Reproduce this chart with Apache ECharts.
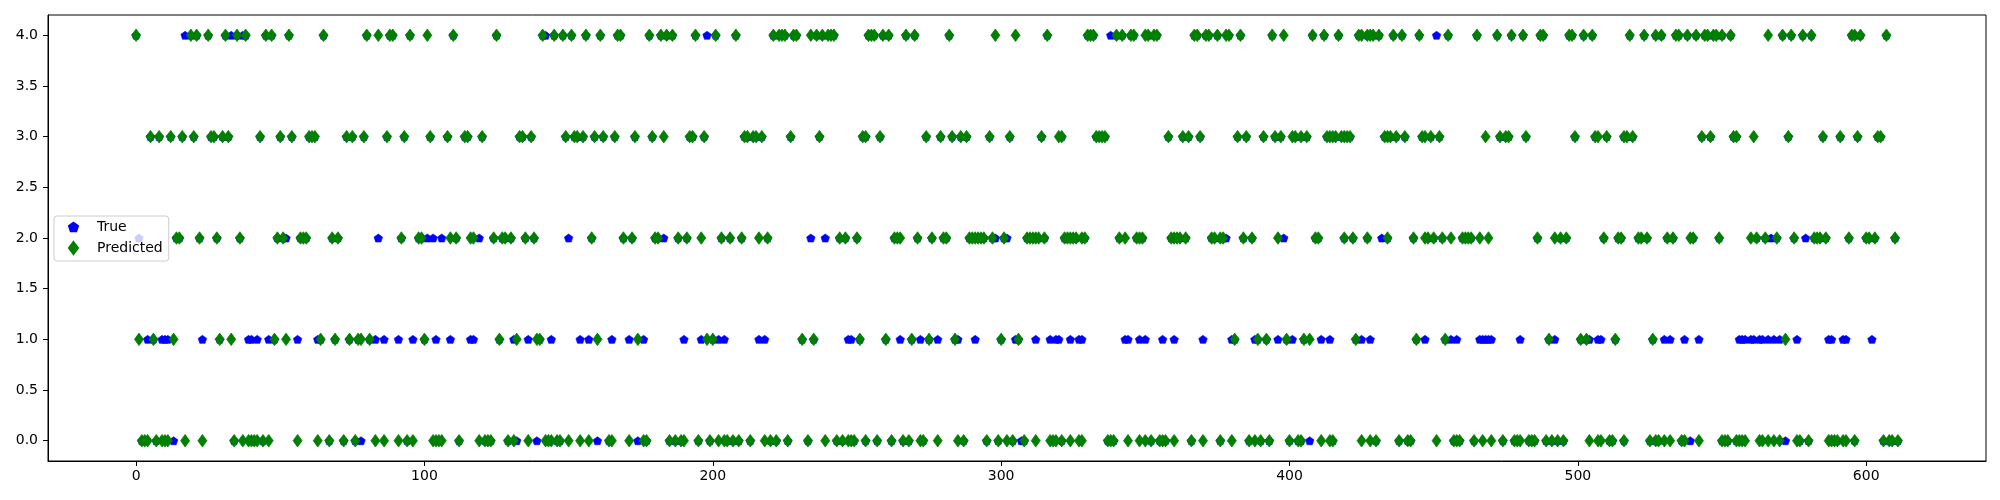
<!DOCTYPE html>
<html><head><meta charset="utf-8">
<script src="https://cdn.jsdelivr.net/npm/echarts@6/dist/echarts.min.js"></script>
<style>html,body{margin:0;padding:0;background:#fff}#c{width:2000px;height:500px}</style>
</head><body><div id="c"></div><script>
// Predicted class per sample index (indices grouped by predicted class)
const pred0 = [2,3,4,7,9,10,11,17,23,34,37,39,40,41,42,44,46,56,63,67,72,76,83,86,91,94,96,103,104,105,106,112,119,121,122,123,129,131,136,142,143,144,146,147,150,154,157,164,165,171,176,177,185,187,189,190,195,199,202,204,205,207,209,213,218,220,222,226,233,239,243,245,247,248,249,253,257,262,266,268,272,273,278,285,287,295,299,302,304,308,312,317,318,319,321,324,327,328,337,338,339,344,348,350,352,355,356,357,360,366,370,376,380,386,388,390,393,400,403,404,411,414,415,425,428,430,438,441,442,451,457,458,459,464,467,470,474,478,479,480,483,484,485,489,491,493,495,504,507,508,511,512,516,525,527,528,530,532,536,537,542,550,551,552,555,556,557,558,563,564,566,568,570,576,577,580,587,588,589,590,592,593,596,606,608,609,611];
const pred1 = [1,6,13,29,33,48,52,64,69,74,77,78,81,100,126,132,139,140,160,174,198,200,231,235,251,260,269,275,284,300,306,381,389,392,399,405,407,423,444,454,490,501,503,513,526,572];
const pred2 = [14,15,22,28,36,49,51,57,58,59,68,70,92,98,99,109,111,116,117,124,127,128,130,135,138,158,169,172,180,181,188,191,196,203,206,210,216,219,244,246,250,263,264,265,271,276,280,281,289,290,291,292,293,294,297,301,309,310,311,312,313,315,322,323,324,325,326,328,329,341,343,347,348,349,359,360,361,362,364,373,374,376,377,384,387,396,409,410,419,422,427,434,443,447,448,450,453,456,460,461,462,463,466,469,486,492,494,496,509,514,515,521,522,524,531,533,539,540,549,560,562,565,569,575,582,583,584,586,594,600,601,603,610];
const pred3 = [5,8,12,16,20,26,27,30,32,43,50,54,60,61,62,73,75,79,87,93,102,108,114,115,120,133,134,137,149,152,153,155,159,162,166,173,179,183,192,193,197,211,212,214,215,217,227,237,252,253,258,274,279,283,286,288,296,303,314,320,321,333,334,335,336,358,363,365,369,382,385,391,395,397,401,402,404,406,413,414,415,416,418,419,420,421,433,434,435,437,440,446,447,449,452,468,473,475,476,482,499,506,507,510,516,517,519,543,546,554,555,561,573,585,591,597,604,605];
const pred4 = [0,19,21,25,31,35,38,45,47,53,65,80,84,88,89,95,101,110,125,141,145,148,151,156,161,167,168,178,182,184,186,194,201,208,221,223,224,225,228,229,234,236,238,240,241,242,254,255,256,259,261,267,270,282,298,305,316,330,331,332,340,342,345,346,350,351,353,354,367,368,371,372,375,378,379,383,394,398,408,412,417,424,425,427,428,429,431,436,439,445,455,465,472,477,481,487,488,497,498,502,505,518,523,527,529,534,535,538,541,544,545,547,548,550,553,566,571,574,578,581,595,596,598,607];
// True class where it differs from the prediction (indices grouped by true class)
const true0x = [13,78,132,139,160,174,307,407,539,572];
const true1x = [4,9,10,11,23,39,40,42,46,56,63,83,86,91,96,104,109,116,117,131,136,144,154,157,165,171,176,190,196,202,204,216,218,247,248,265,272,278,285,291,305,312,317,319,320,324,327,328,343,344,348,350,356,360,370,380,388,396,401,411,414,425,428,447,456,458,466,467,468,469,470,480,492,504,507,508,530,532,537,542,556,557,558,560,561,563,564,566,568,570,576,587,588,592,593,602];
const true2x = [1,52,84,101,103,106,119,150,183,234,239,298,302,378,398,432,567,579];
const true3x = [];
const true4x = [17,33,37,142,198,338,451];
const xTicks = [0,100,200,300,400,500,600];
const yTicks = [0,0.5,1,1.5,2,2.5,3,3.5,4];

function pts(list, lvl){ return list.map(i => [i, lvl]); }
const predData = [].concat(pts(pred0,0), pts(pred1,1), pts(pred2,2), pts(pred3,3), pts(pred4,4));
const mism = new Set([].concat(true0x,true1x,true2x,true3x,true4x));
const trueData = [].concat(pts(true0x,0), pts(true1x,1), pts(true2x,2), pts(true3x,3), pts(true4x,4),
  predData.filter(p => !mism.has(p[0])));

const pent = 'path://M50,0L97.55,34.55L79.39,90.45L20.61,90.45L2.45,34.55Z';
const font = 'DejaVu Sans';
const chart = echarts.init(document.getElementById('c'), null, {renderer:'canvas'});
chart.setOption({
  animation: false,
  backgroundColor: '#fff',
  grid: {left: 48, top: 15, width: 1938, height: 446, show: true, borderColor: '#000', borderWidth: 1, backgroundColor: 'transparent'},
  xAxis: {type: 'value', min: -30.55, max: 641.55,
    axisLine: {show: true, onZero: false, lineStyle: {color: '#000', width: 1}},
    axisTick: {show: true, length: 5, lineStyle: {color: '#000', width: 1}, customValues: xTicks},
    axisLabel: {color: '#000', fontFamily: font, fontSize: 14, margin: 8, customValues: xTicks, formatter: v => String(v)},
    splitLine: {show: false}},
  yAxis: {type: 'value', min: -0.2, max: 4.2,
    axisLine: {show: true, onZero: false, lineStyle: {color: '#000', width: 1}},
    axisTick: {show: true, length: 5, lineStyle: {color: '#000', width: 1}, customValues: yTicks},
    axisLabel: {color: '#000', fontFamily: font, fontSize: 14, margin: 10, customValues: yTicks, formatter: v => Number(v).toFixed(1)},
    splitLine: {show: false}},
  legend: {left: 54, top: 216, orient: 'vertical', padding: [4, 6, 6, 14], itemGap: 7,
    itemWidth: 9, itemHeight: 12,
    backgroundColor: 'rgba(255,255,255,0.8)', borderColor: '#cccccc', borderWidth: 1, borderRadius: 3,
    textStyle: {fontFamily: font, fontSize: 14, color: '#000', padding: [0,0,0,14]},
    data: [{name: 'True', icon: pent}, {name: 'Predicted', icon: 'diamond'}]},
  series: [
    {name: 'True', type: 'scatter', data: trueData, symbol: pent, symbolSize: [8.5, 8],
      itemStyle: {color: '#0000ff', opacity: 1, borderColor: '#0000ff', borderWidth: 0.6}, z: 2},
    {name: 'Predicted', type: 'scatter', data: predData, symbol: 'diamond', symbolSize: [9, 12.5],
      itemStyle: {color: '#008000', opacity: 1, borderColor: '#008000', borderWidth: 0.8}, z: 3}
  ]
});
</script></body></html>
